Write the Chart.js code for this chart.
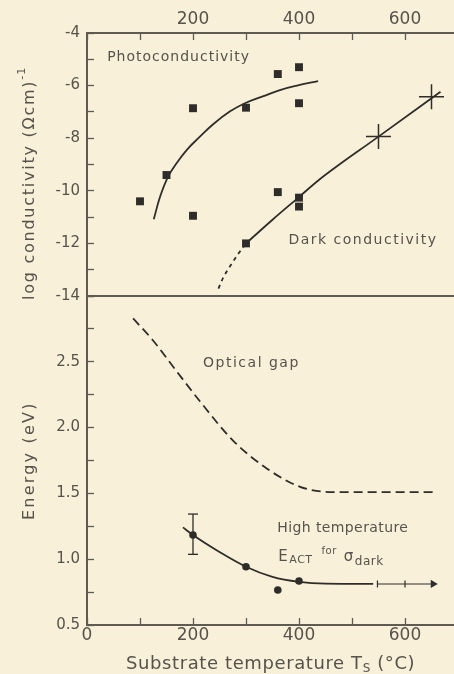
<!DOCTYPE html>
<html>
<head>
<meta charset="utf-8">
<script src="https://cdn.jsdelivr.net/npm/chart.js@4.4.1/dist/chart.umd.min.js"></script>
<style>
  html, body { margin: 0; padding: 0; width: 454px; height: 674px; overflow: hidden; background: #f8f0d9; }
  canvas { position: absolute; left: 0; top: 0; }
</style>
</head>
<body>
<canvas id="condChart" width="480" height="674"></canvas>
<canvas id="energyChart" width="480" height="674"></canvas>
<script>
// top panel: log conductivity vs substrate temperature
const photoTemps = [100, 150, 200, 200, 300, 360, 400, 400];
const photoLogSigma = [-10.4, -9.4, -6.86, -10.95, -6.84, -5.56, -5.3, -6.67];
const photoFitTemps = [126, 138, 153, 169, 188, 210, 238, 270, 298, 333, 364, 396, 436];
const photoFitLogSigma = [-11.08, -10.22, -9.46, -8.95, -8.45, -8.0, -7.47, -6.98, -6.67, -6.4, -6.17, -6.0, -5.83];

const darkTemps = [300, 360, 400, 400];
const darkLogSigma = [-12.0, -10.05, -10.26, -10.6];
const darkHighTemps = [550, 650];
const darkHighLogSigma = [-7.94, -6.42];
const darkFitTemps = [300, 350, 401, 438, 550, 667];
const darkFitLogSigma = [-12.0, -11.1, -10.22, -9.58, -7.94, -6.23];
const darkExtrapTemps = [248, 257, 272, 287, 300];
const darkExtrapLogSigma = [-13.72, -13.3, -12.8, -12.35, -12.0];

// bottom panel: energies
const gapTemps = [87, 125, 163, 213, 276, 339, 402, 465, 653];
const gapEnergy = [2.83, 2.66, 2.46, 2.2, 1.9, 1.69, 1.55, 1.51, 1.51];

const actTemps = [200, 300, 360, 400];
const actEnergy = [1.184, 0.943, 0.766, 0.834];
const actErrTemps = [200, 200];
const actErrEnergy = [1.037, 1.343];
const actFitTemps = [181, 200, 250, 300, 350, 400, 450, 540];
const actFitEnergy = [1.242, 1.184, 1.055, 0.943, 0.866, 0.828, 0.814, 0.812];
const actTailTemps = [548, 600, 653];
const actTailEnergy = [0.812, 0.812, 0.812];

const tempTicksTop = [200, 400, 600];
const tempTicksBottom = [0, 200, 400, 600];

const FONT = 'DejaVu Sans';
const INK = '#2f2d2a';
const AXIS = '#5e5a54';
const TEXT = '#57534c';

const CANVAS_W = 480;
const CANVAS_H = 674;
const PLOT_LEFT = 87;
const PLOT_RIGHT = 458;
const TOP_Y = 33;
const MID_Y = 296;
const BOTTOM_Y = 625;

Chart.defaults.font.family = FONT;
Chart.defaults.color = TEXT;

function pts(xs, ys) {
  return xs.map((x, i) => ({ x, y: ys[i] }));
}

const textPlugin = {
  id: 'texts',
  afterDatasetsDraw(chart, args, opts) {
    const ctx = chart.ctx;
    const xs = chart.scales.x;
    const ys = chart.scales.y;
    (opts.items || []).forEach((item) => {
      const px = item.data ? xs.getPixelForValue(item.x) : item.x;
      const py = item.data ? ys.getPixelForValue(item.y) : item.y;
      ctx.save();
      ctx.translate(px, py);
      if (item.rotate) ctx.rotate(item.rotate);
      ctx.fillStyle = TEXT;
      ctx.textAlign = 'left';
      ctx.textBaseline = 'alphabetic';
      let cx = 0;
      item.parts.forEach((p) => {
        ctx.font = `${p.size || item.size}px "${FONT}"`;
        ctx.letterSpacing = `${p.spacing ?? item.spacing ?? 0}px`;
        cx += p.dx || 0;
        ctx.fillText(p.t, cx, p.dy || 0);
        cx += ctx.measureText(p.t).width;
      });
      ctx.restore();
    });
  },
};

function xScale(position, labels, labelOn) {
  return {
    type: 'linear',
    position,
    min: 0,
    max: 700,
    ticks: {
      display: labelOn,
      stepSize: 100,
      autoSkip: false,
      maxRotation: 0,
      padding: position === 'top' ? 10 : 7,
      font: { size: 17 },
      color: TEXT,
      callback: (v) => (labels.includes(v) ? String(v) : ''),
    },
    grid: {
      drawOnChartArea: false,
      drawTicks: labelOn,
      tickLength: -7,
      tickWidth: 1.3,
      tickColor: AXIS,
    },
    border: { display: true, color: AXIS, width: 2 },
  };
}

// top chart
const condX = xScale('top', tempTicksTop, true);
condX.afterFit = (s) => { s.height = TOP_Y; s.paddingLeft = 0; s.paddingRight = 0; };
const condXb = xScale('bottom', [], false);
condXb.afterFit = (s) => { s.height = 0; s.paddingLeft = 0; s.paddingRight = 0; };

new Chart(document.getElementById('condChart'), {
  type: 'scatter',
  data: {
    datasets: [
      {
        data: pts(photoFitTemps, photoFitLogSigma),
        showLine: true, borderColor: INK, borderWidth: 1.8, pointRadius: 0, tension: 0.4,
      },
      {
        data: pts(darkFitTemps, darkFitLogSigma),
        showLine: true, borderColor: INK, borderWidth: 1.8, pointRadius: 0,
        cubicInterpolationMode: 'monotone',
      },
      {
        data: pts(darkExtrapTemps, darkExtrapLogSigma),
        showLine: true, borderColor: INK, borderWidth: 1.8, pointRadius: 0,
        borderDash: [4, 4], cubicInterpolationMode: 'monotone',
      },
      {
        data: pts(photoTemps, photoLogSigma),
        pointStyle: 'rect', pointRadius: 5.6,
        backgroundColor: INK, borderColor: INK, borderWidth: 0,
      },
      {
        data: pts(darkTemps, darkLogSigma),
        pointStyle: 'rect', pointRadius: 5.6,
        backgroundColor: INK, borderColor: INK, borderWidth: 0,
      },
      {
        data: pts(darkHighTemps, darkHighLogSigma),
        pointStyle: 'cross', pointRadius: 12.5,
        borderColor: INK, borderWidth: 1.5,
      },
    ],
  },
  options: {
    responsive: false,
    animation: false,
    events: [],
    layout: { padding: { left: 0, top: 0, right: CANVAS_W - PLOT_RIGHT, bottom: CANVAS_H - MID_Y } },
    plugins: {
      legend: { display: false },
      tooltip: { enabled: false },
      texts: {
        items: [
          { data: true, x: 38, y: -5.06, size: 14, spacing: 1, parts: [{ t: 'Photoconductivity' }] },
          { data: true, x: 380, y: -12.02, size: 14, spacing: 1.5, parts: [{ t: 'Dark conductivity' }] },
          {
            x: 34, y: 300, rotate: -Math.PI / 2, size: 16, spacing: 1.75,
            parts: [{ t: 'log conductivity (Ωcm)' }, { t: '-1', size: 11, dy: -9, spacing: 1 }],
          },
        ],
      },
    },
    scales: {
      x: condX,
      xb: condXb,
      y: {
        position: 'left',
        min: -14,
        max: -4,
        ticks: {
          stepSize: 1,
          autoSkip: false,
          padding: 14,
          font: { size: 15 },
          color: TEXT,
          callback: (v) => (v % 2 === 0 ? String(v) : ''),
        },
        grid: { drawOnChartArea: false, tickLength: -7, tickWidth: 1.3, tickColor: AXIS },
        border: { display: true, color: AXIS, width: 2 },
        afterFit: (s) => { s.width = PLOT_LEFT; s.paddingTop = 0; s.paddingBottom = 0; },
      },
    },
  },
  plugins: [textPlugin],
});

// bottom chart
const energyX = xScale('bottom', tempTicksBottom, true);
energyX.afterFit = (s) => { s.height = CANVAS_H - BOTTOM_Y; s.paddingLeft = 0; s.paddingRight = 0; };

new Chart(document.getElementById('energyChart'), {
  type: 'scatter',
  data: {
    datasets: [
      {
        data: pts(gapTemps, gapEnergy),
        showLine: true, borderColor: INK, borderWidth: 1.8, pointRadius: 0,
        borderDash: [9, 5], cubicInterpolationMode: 'monotone',
      },
      {
        data: pts(actFitTemps, actFitEnergy),
        showLine: true, borderColor: INK, borderWidth: 1.8, pointRadius: 0,
        cubicInterpolationMode: 'monotone',
      },
      {
        data: pts(actTailTemps, actTailEnergy),
        showLine: true, borderColor: INK, borderWidth: 1.1,
        pointStyle: ['line', 'line', 'triangle'], pointRotation: 90, pointRadius: 3.5,
        backgroundColor: INK, pointBorderColor: INK, pointBorderWidth: 1.2,
      },
      {
        data: pts(actErrTemps, actErrEnergy),
        showLine: true, borderColor: INK, borderWidth: 1.3,
        pointStyle: 'line', pointRadius: 5, pointBorderColor: INK, pointBorderWidth: 1.3,
      },
      {
        data: pts(actTemps, actEnergy),
        pointStyle: 'circle', pointRadius: 3.8,
        backgroundColor: INK, borderColor: INK, borderWidth: 0,
      },
    ],
  },
  options: {
    responsive: false,
    animation: false,
    events: [],
    layout: { padding: { left: 0, top: MID_Y, right: CANVAS_W - PLOT_RIGHT, bottom: 0 } },
    plugins: {
      legend: { display: false },
      tooltip: { enabled: false },
      texts: {
        items: [
          { data: true, x: 219, y: 2.46, size: 14, spacing: 1.5, parts: [{ t: 'Optical gap' }] },
          { data: true, x: 359, y: 1.209, size: 14, spacing: 0.4, parts: [{ t: 'High temperature' }] },
          {
            data: true, x: 361, y: 0.986, size: 15, spacing: 0.5,
            parts: [
              { t: 'E' },
              { t: 'ACT', size: 11, dy: 2, dx: 1 },
              { t: 'for', size: 10, dy: -7, dx: 9 },
              { t: 'σ', dx: 7 },
              { t: 'dark', size: 12, dy: 4, dx: 1 },
            ],
          },
          { x: 34, y: 520, rotate: -Math.PI / 2, size: 16, spacing: 2.2, parts: [{ t: 'Energy (eV)' }] },
          {
            x: 126, y: 669, size: 18, spacing: 0.6,
            parts: [{ t: 'Substrate temperature T' }, { t: 'S', size: 12, dy: 3 }, { t: ' (°C)' }],
          },
        ],
      },
    },
    scales: {
      x: energyX,
      y: {
        position: 'left',
        min: 0.5,
        max: 3.0,
        ticks: {
          stepSize: 0.25,
          autoSkip: false,
          padding: 14,
          font: { size: 15 },
          color: TEXT,
          callback: (v) => {
            const half = Math.round(v * 2) / 2;
            return Math.abs(v - half) < 1e-6 && v < 2.9 ? v.toFixed(1) : '';
          },
        },
        grid: { drawOnChartArea: false, tickLength: -7, tickWidth: 1.3, tickColor: AXIS },
        border: { display: true, color: AXIS, width: 2 },
        afterFit: (s) => { s.width = PLOT_LEFT; s.paddingTop = 0; s.paddingBottom = 0; },
      },
    },
  },
  plugins: [textPlugin],
});
</script>
</body>
</html>
